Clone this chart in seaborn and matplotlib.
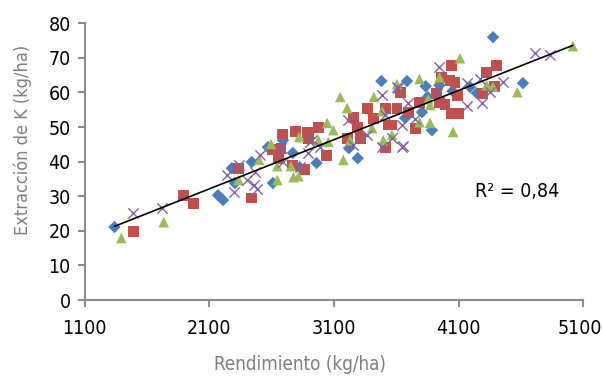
import matplotlib
matplotlib.use('Agg')
import matplotlib.pyplot as plt
from matplotlib import font_manager
from matplotlib.transforms import ScaledTranslation
import seaborn as sns
import numpy as np
import pandas as pd

# Data
blue_x = [1340, 2170, 2210, 2305, 2280, 2440, 2610, 2570, 2690, 2770, 2825, 2960, 3220, 3290,
          3480, 3685, 3670, 3835, 3945, 3850, 3805, 3885, 4050, 4190, 4245, 4375, 4615]
blue_y = [21.1, 30.3, 28.9, 33.8, 38.1, 39.9, 33.8, 44.2, 46.2, 42.5, 38.4, 39.6, 43.9, 41.0,
          63.3, 63.3, 52.6, 61.8, 62.1, 58.7, 54.3, 49.1, 60.4, 61.6, 59.8, 76.0, 62.7]

red_x = [1490, 1890, 1975, 2435, 2335, 2605, 2675, 2685, 2790, 2885, 2895, 2655, 2765, 2860,
         2975, 3365, 3510, 3255, 3415, 3285, 3535, 3310, 3205, 3510, 3040, 3605, 4045, 4405,
         4325, 3965, 4030, 4070, 3630, 3925, 4290, 4090, 3785, 3945, 3990, 3700, 4045, 4095,
         3750, 3565, 4390]
red_y = [19.9, 30.1, 28.0, 29.5, 38.1, 43.4, 43.9, 48.0, 48.6, 48.3, 46.8, 41.0, 39.0, 37.6,
         50.0, 55.5, 55.5, 52.9, 52.6, 50.0, 50.6, 46.8, 46.8, 44.2, 41.9, 55.5, 67.9, 67.9,
         65.9, 64.4, 63.6, 63.0, 60.1, 59.8, 59.8, 59.0, 57.2, 57.2, 56.4, 54.3, 54.0, 54.0,
         49.7, 50.6, 61.6]

green_x = [1395, 1735, 2335, 2500, 2595, 2645, 2645, 2755, 2775, 2815, 2820, 2975, 3150, 3420,
           3205, 3485, 3405, 3045, 3095, 3055, 3230, 3495, 3565, 3175, 3605, 4110, 3945, 3785,
           4325, 4375, 3855, 3870, 3785, 3870, 4055, 4570, 5015]
green_y = [17.9, 22.5, 34.7, 40.5, 45.1, 34.7, 38.7, 38.7, 35.5, 35.8, 47.1, 46.2, 58.7, 58.7,
           55.5, 54.6, 49.7, 51.2, 49.1, 45.7, 46.2, 46.2, 47.7, 40.5, 62.4, 69.9, 64.4, 63.9,
           62.1, 61.6, 58.1, 56.4, 51.4, 51.2, 48.6, 60.1, 73.4]

purple_x = [1490, 1720, 2245, 2295, 2405, 2455, 2485, 2335, 2470, 2510, 2675, 2690, 2910, 2895,
            2925, 2990, 3615, 3485, 3510, 3215, 3365, 3255, 3485, 3655, 3945, 4270, 4170, 3605,
            3925, 4350, 3695, 4170, 3645, 3645, 4715, 4835, 4455, 4290, 3750, 2825, 3565]
purple_y = [25.1, 26.6, 36.1, 31.2, 34.7, 33.2, 32.1, 39.0, 37.0, 41.9, 43.9, 39.9, 45.7, 42.5,
            46.2, 44.2, 61.3, 59.2, 53.5, 52.0, 47.7, 44.8, 44.2, 44.5, 67.3, 63.9, 62.7, 61.6,
            59.8, 60.1, 56.9, 56.1, 50.6, 44.2, 71.4, 70.8, 63.0, 56.9, 52.3, 38.4, 46.8]

x_ticks = [1100, 2100, 3100, 4100, 5100]
y_ticks = [0, 10, 20, 30, 40, 50, 60, 70, 80]

sns.set_style('white')

# prefer a condensed face if one is installed (the original uses a narrow font)
fonts = font_manager.fontManager.ttflist
has_cond = any(f.name == 'DejaVu Sans' and 'condensed' in str(f.stretch) for f in fonts)
if has_cond:
    plt.rcParams['font.family'] = ['DejaVu Sans']
    plt.rcParams['font.stretch'] = 'condensed'
    fs, fs_lab = 14, 13
else:
    plt.rcParams['font.family'] = ['Roboto', 'DejaVu Sans']
    fs, fs_lab = 13.5, 13.5

fig = plt.figure(figsize=(6.02, 3.79), dpi=100)
ax = fig.add_axes([0.1405, 0.2084, 0.8287, 0.7301])

series = [
    (blue_x, blue_y, '#4A7EBB', 'D', 40),
    (red_x, red_y, '#C0504D', 's', 62),
    (green_x, green_y, '#9BBB59', '^', 58),
    (purple_x, purple_y, '#8064A2', 'x', 55),
]
for xs, ys, col, mk, sz in series:
    df = pd.DataFrame({'x': xs, 'y': ys})
    if mk == 'x':
        sns.scatterplot(data=df, x='x', y='y', marker=mk, color=col, s=sz,
                        linewidth=1.0, ax=ax, zorder=3)
    else:
        sns.scatterplot(data=df, x='x', y='y', marker=mk, color=col, s=sz,
                        edgecolor='none', ax=ax, zorder=3)

# linear trend line over all points
all_x = np.array(blue_x + red_x + green_x + purple_x, dtype=float)
all_y = np.array(blue_y + red_y + green_y + purple_y, dtype=float)
slope, inter = np.polyfit(all_x, all_y, 1)
lx = np.array([all_x.min(), all_x.max()])
ax.plot(lx, slope * lx + inter, color='black', linewidth=1.2, zorder=4)

ax.text(4570, 31.5, 'R² = 0,84', fontsize=fs, ha='center', va='center', color='black')

ax.set_xlim(1100, 5100)
ax.set_ylim(0, 80)
ax.set_xticks(x_ticks)
ax.set_yticks(y_ticks)
ax.tick_params(axis='x', direction='out', length=5, width=1.5, color='#8c8c8c',
               labelsize=fs, labelcolor='black', pad=9, bottom=True)
ax.tick_params(axis='y', direction='out', length=5, width=1.5, color='#8c8c8c',
               labelsize=fs, labelcolor='black', pad=5, left=True)
for side in ['top', 'right']:
    ax.spines[side].set_visible(False)
for side in ['left', 'bottom']:
    ax.spines[side].set_color('#8c8c8c')
    ax.spines[side].set_linewidth(1.5)

# nudge the last x label so it stays inside the canvas
last = ax.get_xticklabels()[-1]
last.set_transform(last.get_transform() + ScaledTranslation(-4 / 100, 0, fig.dpi_scale_trans))

ax.set_xlabel('Rendimiento (kg/ha)', fontsize=fs_lab + 0.5, color='#7f7f7f')
ax.set_ylabel('Extracción de K (kg/ha)', fontsize=fs_lab, color='#7f7f7f')
# titles sit off-centre in the original
ax.xaxis.set_label_coords(0.432, -0.197)
ax.yaxis.set_label_coords(-0.105, 0.58)

fig.savefig('out.png', dpi=100)
